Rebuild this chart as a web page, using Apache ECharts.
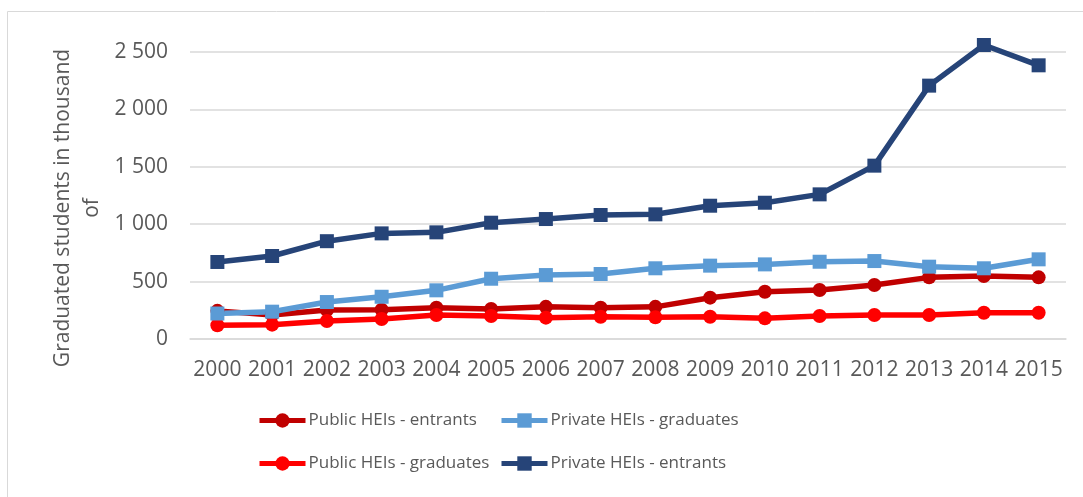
<!DOCTYPE html>
<html><head><meta charset="utf-8">
<script src="https://cdn.jsdelivr.net/npm/echarts@6/dist/echarts.min.js"></script>
<style>html,body{margin:0;padding:0;background:#fff}#c{width:1083px;height:497px}</style>
</head><body><div id="c"></div>
<script>
const years = ['2000','2001','2002','2003','2004','2005','2006','2007','2008','2009','2010','2011','2012','2013','2014','2015'];
const publicEntrants = [245, 210, 253, 255, 272, 262, 280, 272, 280, 360, 412, 427, 470, 537, 549, 537];
const publicGraduates = [120, 125, 157, 174, 209, 200, 186, 194, 189, 194, 180, 200, 209, 209, 229, 229];
const privateGraduates = [222, 238, 322, 368, 424, 525, 557, 566, 616, 639, 650, 673, 679, 630, 616, 694];
const privateEntrants = [671, 723, 852, 920, 929, 1013, 1045, 1080, 1086, 1161, 1187, 1260, 1510, 2207, 2561, 2384];
const yTicks = [0, 500, 1000, 1500, 2000, 2500];
const names = ['Public HEIs - entrants','Public HEIs - graduates','Private HEIs - graduates','Private HEIs - entrants'];
const colors = ['#C00000','#FF0000','#5B9BD5','#264478'];
const FONT = 'Open Sans';

function fmt(v){ return String(v).replace(/\B(?=(\d{3})+(?!\d))/g, ' '); }
function mk(name, data, color, symbol){
  return {name, type:'line', data, clip:false, symbol, symbolSize:14,
    lineStyle:{color, width:5.5}, itemStyle:{color}, emphasis:{disabled:true}};
}
const chart = echarts.init(document.getElementById('c'), null, {renderer:'canvas'});
const legendText = {fontFamily:FONT, fontSize:17, color:'#595959', padding:[0,0,0,-2]};
const legendCommon = {orient:'vertical', itemGap:26, itemWidth:46, itemHeight:18, padding:0,
  lineStyle:{width:5}, textStyle:legendText};
chart.setOption({
  animation:false,
  textStyle:{fontFamily:FONT},
  grid:{left:190, right:17, top:52, bottom:158},
  graphic:[
    {type:'rect', shape:{x:7.5, y:11.5, width:1090, height:500}, style:{fill:null, stroke:'#D9D9D9', lineWidth:1}, silent:true},
    {type:'text', x:78, y:208, rotation:Math.PI/2,
      style:{text:'Graduated students in thousand\nof', fontFamily:FONT, fontSize:21, fill:'#595959', align:'center', verticalAlign:'middle', lineHeight:29}}
  ],
  legend:[
    Object.assign({left:257, top:412, data:[names[0], names[1]]}, legendCommon),
    Object.assign({left:499, top:412, data:[names[2], names[3]]}, legendCommon)
  ],
  xAxis:{type:'category', data:years, boundaryGap:true,
    axisLine:{show:true, lineStyle:{color:'#D9D9D9', width:1.5}}, axisTick:{show:false},
    axisLabel:{fontFamily:FONT, fontSize:21, color:'#595959', margin:21, interval:0}},
  yAxis:{type:'value', min:0, max:2500, interval:500,
    axisLine:{show:false}, axisTick:{show:false},
    splitLine:{lineStyle:{color:'#D9D9D9', width:1.5}},
    axisLabel:{fontFamily:FONT, fontSize:21, color:'#595959', margin:22, formatter:v=>fmt(v)}},
  series:[
    mk(names[0], publicEntrants, colors[0], 'circle'),
    mk(names[1], publicGraduates, colors[1], 'circle'),
    mk(names[2], privateGraduates, colors[2], 'rect'),
    mk(names[3], privateEntrants, colors[3], 'rect')
  ]
});
</script></body></html>
